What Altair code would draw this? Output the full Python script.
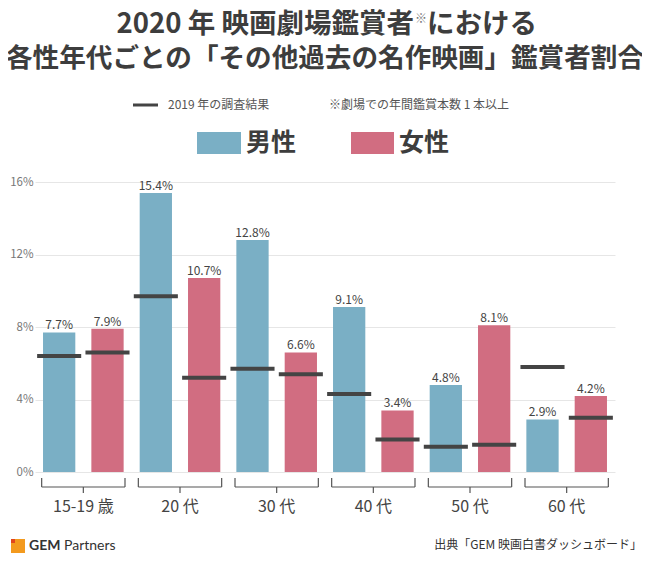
import altair as alt
import pandas as pd

# ---- data ----
groups = ["15-19 歳", "20 代", "30 代", "40 代", "50 代", "60 代"]
sexes = ["男性", "女性"]
male_2020 = [7.7, 15.4, 12.8, 9.1, 4.8, 2.9]
female_2020 = [7.9, 10.7, 6.6, 3.4, 8.1, 4.2]
male_2019 = [6.4, 9.7, 5.7, 4.3, 1.4, 5.8]
female_2019 = [6.6, 5.2, 5.4, 1.8, 1.5, 3.0]
y_ticks = [0, 4, 8, 12, 16]

title_1a = "2020 年 映画劇場鑑賞者"
title_1b = "※"
title_1c = "における"
title_2 = "各性年代ごとの「その他過去の名作映画」鑑賞者割合"
legend_line_text = "2019 年の調査結果"
note_text = "※劇場での年間鑑賞本数 1 本以上"
source_text = "出典「GEM 映画白書ダッシュボード」"

MALE_C = "#7AAFC5"
FEMALE_C = "#D16D81"
LINE_C = "#444444"
FONT = "Noto Sans CJK JP"

# ---- tables built from the arrays ----
offsets = {"男性": -0.25, "女性": 0.25}
rows = []
for i, g in enumerate(groups):
    for sex, v20, v19 in (("男性", male_2020[i], male_2019[i]),
                          ("女性", female_2020[i], female_2019[i])):
        c = i + offsets[sex]
        rows.append(dict(group=g, gi=i, sex=sex, value=v20, prev=v19,
                         center=c, bl=c - 0.167, br=c + 0.167,
                         ll=c - 0.228, lr=c + 0.228))
df = pd.DataFrame(rows)
gdf = pd.DataFrame({"group": groups, "gi": list(range(len(groups)))})
gdf["left"] = gdf["gi"] - 0.431
gdf["right"] = gdf["gi"] + 0.431

xscale = alt.Scale(domain=[-0.5, len(groups) - 0.5], nice=False, zero=False)
yscale = alt.Scale(domain=[0, 16], nice=False)
cscale = alt.Scale(domain=sexes, range=[MALE_C, FEMALE_C])

base = alt.Chart(df)

bars = base.mark_bar().encode(
    x=alt.X("bl:Q", scale=xscale, axis=None),
    x2="br:Q",
    y=alt.Y("value:Q", scale=yscale,
            axis=alt.Axis(values=y_ticks, labelExpr="datum.value + '%'",
                          grid=True, gridColor="#e6e6e6", gridWidth=1,
                          domain=False, ticks=False, labelFontSize=11.5,
                          labelColor="#777777", labelPadding=2, title=None,
                          labelFont=FONT)),
    y2=alt.datum(0),
    color=alt.Color("sex:N", scale=cscale, legend=None),
)

labels = base.transform_calculate(
    lab="format(datum.value, '.1f') + '%'"
).mark_text(baseline="alphabetic", dy=-3, fontSize=12, color="#444444",
            font=FONT).encode(
    x=alt.X("center:Q", scale=xscale),
    y=alt.Y("value:Q", scale=yscale),
    text="lab:N",
)

prev_lines = base.mark_rule(color=LINE_C, strokeWidth=4).encode(
    x=alt.X("ll:Q", scale=xscale),
    x2="lr:Q",
    y=alt.Y("prev:Q", scale=yscale),
)

# brackets below the axis
gbase = alt.Chart(gdf)
BR_TOP, BR_BOT, BR_TICK = 296, 305, 311
br_h = gbase.mark_rule(color="#555555", strokeWidth=1.2).encode(
    x=alt.X("left:Q", scale=xscale), x2="right:Q", y=alt.value(BR_BOT))
br_l = gbase.mark_rule(color="#555555", strokeWidth=1.2).encode(
    x=alt.X("left:Q", scale=xscale), y=alt.value(BR_TOP), y2=alt.value(BR_BOT))
br_r = gbase.mark_rule(color="#555555", strokeWidth=1.2).encode(
    x=alt.X("right:Q", scale=xscale), y=alt.value(BR_TOP), y2=alt.value(BR_BOT))
br_c = gbase.mark_rule(color="#555555", strokeWidth=1.2).encode(
    x=alt.X("gi:Q", scale=xscale), y=alt.value(BR_BOT), y2=alt.value(BR_TICK))
xlabels = gbase.mark_text(fontSize=16, color="#444444", font=FONT,
                          baseline="middle").encode(
    x=alt.X("gi:Q", scale=xscale), y=alt.value(325), text="group:N")

one = pd.DataFrame({"k": [0]})


def txt(t, x, y, size, weight="normal", color="#3d3d3d", align="left", font=FONT):
    return alt.Chart(one).mark_text(
        fontSize=size, fontWeight=weight, color=color, align=align,
        baseline="middle", font=font).encode(
        x=alt.value(x), y=alt.value(y), text=alt.value(t))


t1a = txt(title_1a, 379, -157, 27.5, "bold", align="right")
t1b = txt(title_1b, 386, -163, 12, "normal", color="#777777", align="center")
t1c = txt(title_1c, 392, -157, 27.5, "bold", align="left")
t2 = txt(title_2, 290, -123, 26.6, "bold", align="center")

leg_dash = alt.Chart(one).mark_rule(color=LINE_C, strokeWidth=3).encode(
    x=alt.value(98), x2=alt.value(123), y=alt.value(-77))
leg_t1 = txt(legend_line_text, 133, -77, 12, color="#555555")
leg_note = txt(note_text, 294, -77, 12, color="#555555")

sw = pd.DataFrame({"sex": sexes})
sw_m = alt.Chart(sw).transform_filter("datum.sex == '男性'").mark_rect().encode(
    x=alt.value(162), x2=alt.value(206), y=alt.value(-50), y2=alt.value(-28),
    color=alt.Color("sex:N", scale=cscale, legend=None))
sw_f = alt.Chart(sw).transform_filter("datum.sex == '女性'").mark_rect().encode(
    x=alt.value(316), x2=alt.value(359), y=alt.value(-50), y2=alt.value(-28),
    color=alt.Color("sex:N", scale=cscale, legend=None))
leg_m = txt("男性", 211, -39, 25, "bold")
leg_f = txt("女性", 364, -39, 25, "bold")

# footer
logo = alt.Chart(one).mark_rect(color="#F39A1E").encode(
    x=alt.value(-24), x2=alt.value(-10), y=alt.value(357), y2=alt.value(371))
logo2 = alt.Chart(one).mark_rect(color="#E2461C").encode(
    x=alt.value(-24), x2=alt.value(-20), y=alt.value(357), y2=alt.value(361))
gem = txt("GEM", -6, 364, 14, "bold", color="#333333", font="Lato")
partners = txt("Partners", 29, 364, 14, color="#333333", font="Lato")
source = txt(source_text, 607, 363, 12, color="#333333", align="right")

chart = alt.layer(
    bars, prev_lines, labels, br_h, br_l, br_r, br_c, xlabels,
    t1a, t1b, t1c, t2, leg_dash, leg_t1, leg_note, sw_m, sw_f, leg_m, leg_f,
    logo, logo2, gem, partners, source,
).properties(
    width=580, height=290,
    autosize=alt.AutoSizeParams(type="none"),
    padding={"left": 27, "top": 174, "right": 27, "bottom": 84},
    background="white",
).configure_view(stroke=None)

chart.save("out.html", embed_options={"renderer": "svg", "actions": False})
